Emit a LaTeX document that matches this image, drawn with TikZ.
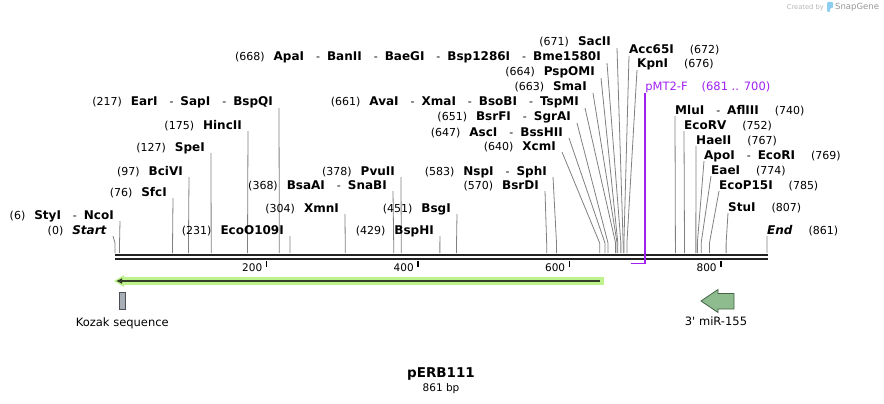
\documentclass[tikz,border=0pt]{standalone}
\usepackage{fontspec}
\setmainfont{DejaVu Sans}
\usepackage{tikz}
\usetikzlibrary{arrows.meta,shapes,positioning}

\definecolor{sitegray}{RGB}{128,128,128}
\definecolor{bardark}{RGB}{34,34,34}
\definecolor{primer}{RGB}{160,32,240}
\definecolor{orfglow}{RGB}{190,242,140}
\definecolor{orfdark}{RGB}{50,62,40}
\definecolor{kozakfill}{RGB}{168,174,182}
\definecolor{kozakline}{RGB}{75,80,88}
\definecolor{mirfill}{RGB}{143,188,143}
\definecolor{mirline}{RGB}{70,100,70}
\definecolor{creditgray}{RGB}{180,180,180}
\definecolor{brandgray}{RGB}{150,150,150}
\definecolor{logoblue}{RGB}{140,205,240}

\newcommand{\enzfont}{\fontsize{12}{14}\selectfont\bfseries}
\newcommand{\posfont}{\fontsize{11}{13}\selectfont\mdseries}
\newcommand{\cutpos}[1]{{\posfont(#1)}}
\newcommand{\alsocut}{\hspace{12pt}{\posfont -}\hspace{7pt}}

\begin{document}
\begin{tikzpicture}[
		x=1pt, y=-1pt,
		enzyme/.style    = {font=\enzfont, inner sep=0pt},
		cutline/.style   = {draw=sitegray, line width=0.8pt},
		seqbar/.style    = {draw=bardark, line width=2.2pt},
		tick/.style      = {draw=black, line width=1.6pt},
		ticklabel/.style = {font=\fontsize{10.5}{12}\selectfont, inner sep=0pt},
		primerlab/.style = {font=\fontsize{11.5}{13}\selectfont, text=primer, inner sep=0pt},
		primerline/.style= {draw=primer, line width=1.4pt},
		kozak/.style     = {draw=kozakline, fill=kozakfill, line width=0.8pt, minimum width=6.7pt, minimum height=17pt, inner sep=0pt},
		mirarrow/.style  = {draw=mirline, fill=mirfill, line width=0.8pt},
		featlabel/.style = {font=\fontsize{11.5}{13}\selectfont, inner sep=0pt},
		>=Latex]
		
		\useasboundingbox (0,0) rectangle (884,404);
		
		% credit in the corner
		\node[font=\fontsize{6.7}{8}\selectfont, text=creditgray, inner sep=0pt, anchor=base east] (credit) at (824,10) {Created by};
		\fill[logoblue, rounded corners=1pt] (827,2) -- (833,2) -- (833,8) -- (830,8) -- (830,12) -- (827,12) -- cycle;
		\node[font=\fontsize{8.5}{10}\selectfont, text=brandgray, inner sep=0pt, anchor=base west] (brand) at (835,10) {SnapGene};
		
		% the sequence, two strands
		\coordinate (seq-start) at (115,257);
		\coordinate (seq-end) at (768,257);
		\draw[seqbar] ([yshift=2pt]seq-start) -- ([yshift=2pt]seq-end);
		\draw[seqbar] ([yshift=-2pt]seq-start) -- ([yshift=-2pt]seq-end);
		
		% ruler
		\foreach \t in {200,400,600,800} {
			\coordinate (t\t) at ({115+0.7573*\t},261);
			\draw[tick] (t\t) -- ++(0,6);
			\node[ticklabel, anchor=base east] (n\t) at ({115+0.7573*\t-4},271) {\t};
		}
		
		% cut sites labelled on the left of their line
		\foreach \bp/\ly/\lx/\nm/\txt in {
			0/234/113/start/\textit{Start},
			6/219/120/styi/StyI\alsocut NcoI,
			76/196/173/sfci/SfcI,
			97/175/189/bcivi/BciVI,
			127/151/211/spei/SpeI,
			175/129/248/hincii/HincII,
			217/106/279/eari/EarI\alsocut SapI\alsocut BspQI,
			231/234/290/ecoo/EcoO109I,
			304/212/345/xmni/XmnI,
			368/189/393/bsaai/BsaAI\alsocut SnaBI,
			378/175/401/pvuii/PvuII,
			429/234/440/bsphi/BspHI,
			451/212/457/bsgi/BsgI,
			570/189/545/bsrdi/BsrDI,
			583/175/553/nspi/NspI\alsocut SphI,
			640/150/562/xcmi/XcmI,
			647/136/569/asci/AscI\alsocut BssHII,
			651/121/577/bsrfi/BsrFI\alsocut SgrAI,
			661/106/585/avai/AvaI\alsocut XmaI\alsocut BsoBI\alsocut TspMI,
			663/91/593/smai/SmaI,
			664/76/601/pspomi/PspOMI,
			668/61/607/apai/ApaI\alsocut BanII\alsocut BaeGI\alsocut Bsp1286I\alsocut Bme1580I,
			671/46/617/sacii/SacII}
		{
			\coordinate (s-\nm) at ({115+0.7573*\bp},253);
			\node[enzyme, anchor=base east] (l-\nm) at (\lx-6,\ly) {\cutpos{\bp}\hspace{9pt}\txt};
			\draw[cutline] (s-\nm) -- ++(0,-10) -- ([xshift=6pt,yshift=-2pt]l-\nm.base east);
		}
		
		% cut sites labelled on the right of their line
		\foreach \bp/\ly/\lx/\nm/\txt in {
			672/54/629/acci/Acc65I,
			676/68/637/kpni/KpnI,
			740/114/675/mlui/MluI\alsocut AflIII,
			752/129/684/ecorv/EcoRV,
			767/144/696/haeii/HaeII,
			769/159/704/apoi/ApoI\alsocut EcoRI,
			774/174/711/eaei/EaeI,
			785/189/719/ecop/EcoP15I,
			807/211/728/stui/StuI,
			861/234/767/end/\textit{End}}
		{
			\coordinate (s-\nm) at ({115+0.7573*\bp},253);
			\node[enzyme, anchor=base west] (l-\nm) at (\lx,\ly) {\txt\hspace{16pt}\cutpos{\bp}};
			\draw[cutline] (s-\nm) -- ++(0,-10) -- ([yshift=-2pt]l-\nm.base west);
		}
		
		% primer
		\coordinate (p-from) at ({115+0.7573*681},263.5);
		\coordinate (p-to) at ({115+0.7573*700},263.5);
		\node[primerlab, anchor=base west] (l-pmt) at ({115+0.7573*700},91) {pMT2-F\hspace{14pt}(681 .. 700)};
		\draw[primerline] (p-from) -- (p-to) -- ([yshift=-2pt]l-pmt.base west);
		
		% open reading frame, reverse
		\coordinate (orf-end) at (600,281);
		\coordinate (orf-tip) at (116,281);
		\fill[orfglow] ([xshift=4pt,yshift=4pt]orf-end) rectangle ([xshift=7pt,yshift=-4pt]orf-tip);
		\fill[orfglow] ([xshift=-2pt]orf-tip) -- ++(10,-6) -- ++(0,12) -- cycle;
		\draw[orfdark, line width=2.2pt, -{Latex[length=6pt,width=6pt]}] (orf-end) -- (orf-tip);
		
		% features
		\node[kozak] (kozak) at (122.3,301.3) {};
		\node[featlabel, below=7pt of kozak] (kozak-lab) {Kozak sequence};
		
		\draw[mirarrow] (701,301) -- (718,289.5) -- (718,293.5) -- (734,293.5) -- (734,309) -- (718,309) -- (718,312.5) -- cycle;
		\coordinate (mir) at (716,312.5);
		\node[featlabel, below=4.5pt of mir] (mir-lab) {3\textquotesingle{} miR-155};
		
		% name and length
		\node[font=\fontsize{13.5}{15}\selectfont\bfseries, inner sep=0pt, anchor=base] (title) at (441,377) {pERB111};
		\node[font=\fontsize{10.5}{12}\selectfont, inner sep=0pt, anchor=base] (length) at (441,391) {861 bp};
		
	\end{tikzpicture}
\end{document}
